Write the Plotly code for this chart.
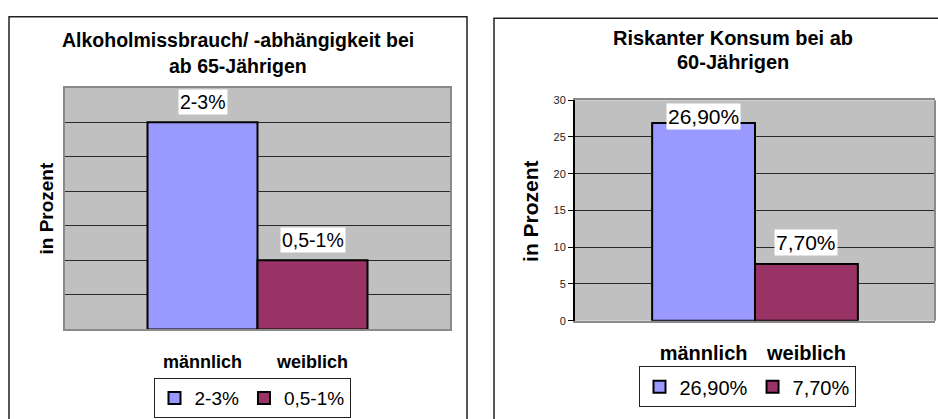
import plotly.graph_objects as go

# --- data -------------------------------------------------------------
categories = ["männlich", "weiblich"]

# left chart: alcohol abuse / dependence, age 65+
left_title = ["Alkoholmissbrauch/ -abhängigkeit bei", "ab 65-Jährigen"]
left_series = ["2-3%", "0,5-1%"]          # series names, also used as bar labels
left_values = [3.0, 1.0]                   # upper bound of each range, in percent
left_ticks = [0.5, 1.0, 1.5, 2.0, 2.5, 3.0, 3.5]

# right chart: risky consumption, age 60+
right_title = ["Riskanter Konsum bei ab", "60-Jährigen"]
right_values = [26.9, 7.7]
right_ticks = [0, 5, 10, 15, 20, 25, 30]

y_title = "in Prozent"

# --- styling ----------------------------------------------------------
W, H = 938, 419
FONT = "Liberation Sans, Arial, sans-serif"
BAR_COLORS = ["#9999FF", "#993366"]
PLOT_BG = "#C0C0C0"
GRID = "#2a2a2a"
FRAME_GRAY = "#8a8a8a"


def px(x):
    return x / W


def py(y):
    return 1 - y / H


def pct(v):
    return f"{v:.2f}".replace(".", ",") + "%"


right_labels = [pct(v) for v in right_values]

fig = go.Figure()

# left chart bars
for i, (name, val) in enumerate(zip(left_series, left_values)):
    fig.add_trace(go.Bar(
        x=[i], y=[val], width=1, name=name,
        marker=dict(color=BAR_COLORS[i], line=dict(color="#000", width=2)),
        xaxis="x", yaxis="y", legend="legend", hoverinfo="skip",
    ))

# right chart bars
for i, (name, val) in enumerate(zip(right_labels, right_values)):
    fig.add_trace(go.Bar(
        x=[i], y=[val], width=1, name=name,
        marker=dict(color=BAR_COLORS[i], line=dict(color="#000", width=2)),
        xaxis="x2", yaxis="y2", legend="legend2", hoverinfo="skip",
    ))

xcommon = dict(
    range=[-1.25, 2.25], tickvals=list(range(len(categories))), ticktext=categories,
    showgrid=False, zeroline=False, showline=True, linecolor=FRAME_GRAY, linewidth=2,
    mirror=True, ticks="", fixedrange=True,
)

legend_common = dict(orientation="h", xanchor="center", yanchor="top",
                     bgcolor="white", bordercolor="#222", borderwidth=1,
                     itemwidth=30, itemclick=False, itemdoubleclick=False)

fig.update_layout(
    width=W, height=H, margin=dict(l=0, r=0, t=0, b=0),
    paper_bgcolor="white", plot_bgcolor=PLOT_BG,
    font=dict(family=FONT, color="#000"),
    barmode="overlay", showlegend=True,
    xaxis=dict(**xcommon, domain=[px(65), px(450)], anchor="y",
               tickfont=dict(size=18, weight="bold"), ticklabelstandoff=15),
    yaxis=dict(domain=[py(333), py(84)], anchor="x", range=[0, 3.5],
               tickvals=left_ticks, showticklabels=False, ticks="",
               showgrid=True, gridcolor=GRID, gridwidth=1, zeroline=False,
               showline=True, linecolor=FRAME_GRAY, linewidth=2, mirror=True,
               fixedrange=True),
    xaxis2=dict(**xcommon, domain=[px(575), px(935)], anchor="y2",
                tickfont=dict(size=20, weight="bold"), ticklabelstandoff=13),
    yaxis2=dict(domain=[py(324), py(97)], anchor="x2", range=[0, 30],
                tickvals=right_ticks, ticks="outside", ticklen=5, tickwidth=1,
                tickcolor="#000", tickfont=dict(size=11, color="#222"),
                showgrid=True, gridcolor=GRID, gridwidth=1, zeroline=False,
                showline=True, linecolor="#000", linewidth=2, mirror=False,
                fixedrange=True),
    legend=dict(**legend_common, x=px(252), y=py(383), font=dict(size=19)),
    legend2=dict(**legend_common, x=px(747), y=py(371), font=dict(size=20)),
)

annotations = []

# chart titles
for line, ypos in zip(left_title, [35, 62]):
    annotations.append(dict(text=line, x=px(238), y=py(ypos), xref="paper", yref="paper",
                            showarrow=False, xanchor="center", yanchor="middle",
                            font=dict(size=19.5, weight="bold")))
for line, ypos in zip(right_title, [33, 58]):
    annotations.append(dict(text=line, x=px(733), y=py(ypos), xref="paper", yref="paper",
                            showarrow=False, xanchor="center", yanchor="middle",
                            font=dict(size=20, weight="bold")))

# y-axis titles
annotations.append(dict(text=y_title, x=px(47), y=py(208.5), xref="paper", yref="paper",
                        showarrow=False, textangle=-90, xanchor="center", yanchor="middle",
                        font=dict(size=19, weight="bold")))
annotations.append(dict(text=y_title, x=px(531), y=py(211), xref="paper", yref="paper",
                        showarrow=False, textangle=-90, xanchor="center", yanchor="middle",
                        font=dict(size=21, weight="bold")))

# bar value labels
for i, (txt, val) in enumerate(zip(left_series, left_values)):
    annotations.append(dict(text=txt, x=i, y=val, xref="x", yref="y", showarrow=False,
                            xanchor="center", yanchor="middle", yshift=20,
                            bgcolor="white", borderpad=1, font=dict(size=19.5)))
for i, (txt, val, shift) in enumerate(zip(right_labels, right_values, [7, 22])):
    annotations.append(dict(text=txt, x=i, y=val, xref="x2", yref="y2", showarrow=False,
                            xanchor="center", yanchor="middle", yshift=shift,
                            bgcolor="white", borderpad=1, font=dict(size=21)))

fig.update_layout(annotations=annotations)

# chart frames and the right edge of the second plot area
fig.update_layout(shapes=[
    dict(type="rect", xref="paper", yref="paper", x0=px(9), x1=px(467),
         y0=-0.2, y1=py(11), line=dict(color="#222", width=1.5)),
    dict(type="rect", xref="paper", yref="paper", x0=px(494), x1=1.2,
         y0=-0.2, y1=py(12.5), line=dict(color="#222", width=1.5)),
    dict(type="line", xref="x2 domain", yref="y2 domain", x0=1, x1=1, y0=0, y1=1,
         line=dict(color=FRAME_GRAY, width=2)),
])

fig.write_html("out.html")
